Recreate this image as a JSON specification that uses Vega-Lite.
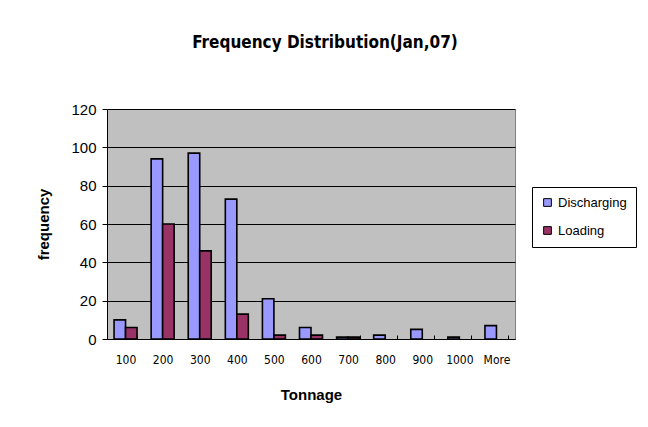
{
  "$schema": "https://vega.github.io/schema/vega-lite/v6.json",
  "autosize": "none",
  "width": 408,
  "height": 230,
  "padding": {"left": 107, "top": 109, "right": 133, "bottom": 88},
  "background": "white",
  "title": {
    "text": "Frequency Distribution(Jan,07)",
    "font": "Arial Narrow, Liberation Sans Narrow, DejaVu Sans Condensed, sans-serif",
    "fontSize": 17,
    "fontWeight": "bold",
    "color": "black",
    "anchor": "middle",
    "dx": 14,
    "offset": 50
  },
  "data": {
    "values": [
      {"bin": "100", "series": "Discharging", "freq": 10},
      {"bin": "100", "series": "Loading", "freq": 6},
      {"bin": "200", "series": "Discharging", "freq": 94},
      {"bin": "200", "series": "Loading", "freq": 60},
      {"bin": "300", "series": "Discharging", "freq": 97},
      {"bin": "300", "series": "Loading", "freq": 46},
      {"bin": "400", "series": "Discharging", "freq": 73},
      {"bin": "400", "series": "Loading", "freq": 13},
      {"bin": "500", "series": "Discharging", "freq": 21},
      {"bin": "500", "series": "Loading", "freq": 2},
      {"bin": "600", "series": "Discharging", "freq": 6},
      {"bin": "600", "series": "Loading", "freq": 2},
      {"bin": "700", "series": "Discharging", "freq": 1},
      {"bin": "700", "series": "Loading", "freq": 1},
      {"bin": "800", "series": "Discharging", "freq": 2},
      {"bin": "800", "series": "Loading", "freq": 0},
      {"bin": "900", "series": "Discharging", "freq": 5},
      {"bin": "900", "series": "Loading", "freq": 0},
      {"bin": "1000", "series": "Discharging", "freq": 1},
      {"bin": "1000", "series": "Loading", "freq": 0},
      {"bin": "More", "series": "Discharging", "freq": 7},
      {"bin": "More", "series": "Loading", "freq": 0}
    ]
  },
  "mark": {"type": "bar", "stroke": "black", "strokeWidth": 1.6},
  "encoding": {
    "x": {
      "field": "bin",
      "type": "nominal",
      "sort": null,
      "scale": {"paddingInner": 0.38, "paddingOuter": 0.19},
      "axis": {
        "title": "Tonnage",
        "titleFont": "Liberation Sans",
        "titleFontSize": 15,
        "titleFontWeight": "bold",
        "titleColor": "black",
        "titlePadding": 22,
        "labelAngle": 0,
        "labelFont": "Arial Narrow, Liberation Sans Narrow, DejaVu Sans Condensed, sans-serif",
        "labelFontSize": 12,
        "labelColor": "black",
        "labelPadding": 19,
        "tickBand": "extent",
        "tickColor": "black",
        "tickSize": -4,
        "domainColor": "black",
        "grid": false
      }
    },
    "xOffset": {"field": "series", "type": "nominal"},
    "y": {
      "field": "freq",
      "type": "quantitative",
      "scale": {"domain": [0, 120], "nice": false},
      "axis": {
        "title": "frequency",
        "titleFont": "Liberation Sans",
        "titleFontSize": 15,
        "titleFontWeight": "bold",
        "titleColor": "black",
        "titlePadding": 19,
        "values": [0, 20, 40, 60, 80, 100, 120],
        "labelFont": "Liberation Sans",
        "labelFontSize": 15,
        "labelColor": "black",
        "labelPadding": 6,
        "tickColor": "black",
        "tickSize": 5,
        "domainColor": "black",
        "grid": true,
        "gridColor": "black",
        "gridOpacity": 1,
        "gridWidth": 1
      }
    },
    "color": {
      "field": "series",
      "type": "nominal",
      "scale": {"domain": ["Discharging", "Loading"], "range": ["#9999FF", "#993366"]},
      "legend": {
        "title": null,
        "orient": "none",
        "legendX": 425,
        "legendY": 78,
        "symbolType": "square",
        "symbolSize": 60,
        "symbolStrokeColor": "black",
        "symbolStrokeWidth": 1,
        "labelFont": "Liberation Sans",
        "labelFontSize": 13,
        "labelColor": "black",
        "rowPadding": 14,
        "padding": 9,
        "strokeColor": "black",
        "fillColor": "white"
      }
    },
    "strokeOpacity": {
      "condition": {"test": "datum.freq == 0", "value": 0},
      "value": 1
    }
  },
  "config": {
    "view": {"fill": "#C0C0C0", "stroke": "#808080", "strokeWidth": 1}
  }
}
